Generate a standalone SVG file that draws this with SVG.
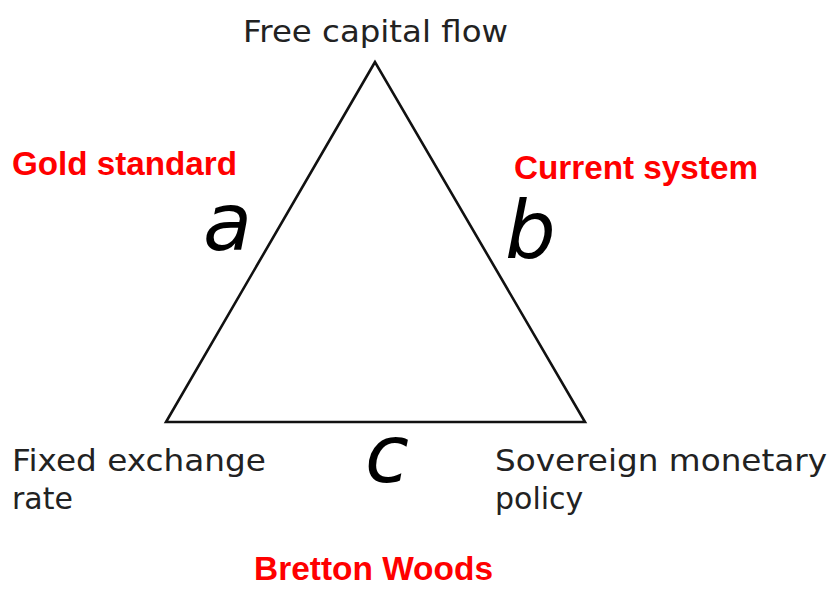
<svg xmlns="http://www.w3.org/2000/svg" width="835" height="600" viewBox="0 0 835 600">
<style>
.lbl{font-family:"DejaVu Sans",sans-serif;font-size:30px;fill:#222}
.var{font-family:"DejaVu Sans",sans-serif;font-style:italic;font-size:80px;fill:#000}
.sys{font-family:"Liberation Sans",Arial,sans-serif;font-weight:bold;font-size:33.5px;fill:#ff0000}
</style>
<rect width="835" height="600" fill="#fff"/>
<g id="connectors">
<path d="M375,62 L166,422 L585,422 Z" fill="none" stroke="#111" stroke-width="2.6" stroke-linejoin="miter"/>
</g>
<g id="node-free-capital"><text class="lbl" x="243" y="42" textLength="265" lengthAdjust="spacingAndGlyphs">Free capital flow</text></g>
<g id="node-fixed-exchange"><text class="lbl" x="12" y="471" textLength="254" lengthAdjust="spacingAndGlyphs">Fixed exchange</text><text class="lbl" x="12" y="509">rate</text></g>
<g id="node-sovereign"><text class="lbl" x="495" y="471" textLength="332" lengthAdjust="spacingAndGlyphs">Sovereign monetary</text><text class="lbl" x="495" y="509">policy</text></g>
<g id="label-a"><text class="var" x="203" y="250">a</text></g>
<g id="label-b"><text class="var" x="505" y="258">b</text></g>
<g id="label-c"><text class="var" x="365" y="482">c</text></g>
<g id="system-gold"><text class="sys" x="12" y="175" textLength="225" lengthAdjust="spacingAndGlyphs">Gold standard</text></g>
<g id="system-current"><text class="sys" x="514" y="179" textLength="244" lengthAdjust="spacingAndGlyphs">Current system</text></g>
<g id="system-bretton"><text class="sys" x="254" y="580" textLength="239" lengthAdjust="spacingAndGlyphs">Bretton Woods</text></g>
</svg>
